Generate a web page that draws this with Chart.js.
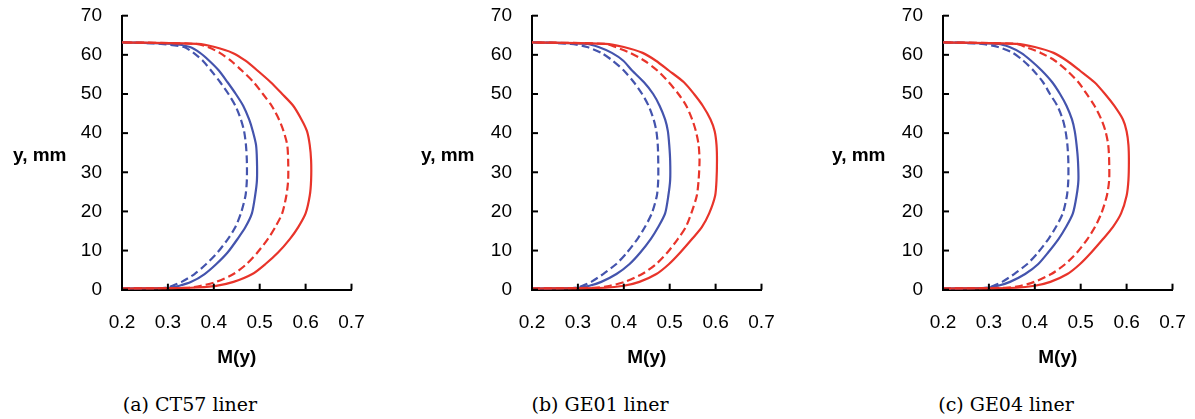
<!DOCTYPE html>
<html><head><meta charset="utf-8">
<script src="https://cdn.jsdelivr.net/npm/chart.js@4.4.1/dist/chart.umd.min.js"></script>
<style>
html,body{margin:0;padding:0;background:#fff;}
#wrap{position:relative;width:1195px;height:419px;overflow:hidden;background:#fff;}
.panel{position:absolute;top:0;width:374px;height:380px;}
.ylab{position:absolute;font:bold 19px "Liberation Sans",Arial,sans-serif;color:#000;line-height:22px;top:144px;white-space:nowrap;}
.cap{position:absolute;font:19px "DejaVu Serif",serif;color:#000;top:393px;width:300px;text-align:center;line-height:22px;}
</style></head><body>
<div id="wrap">
  <div class="panel" style="left:0px"><canvas id="c0" width="374" height="380"></canvas></div>
  <div class="panel" style="left:410px"><canvas id="c1" width="374" height="380"></canvas></div>
  <div class="panel" style="left:821px"><canvas id="c2" width="374" height="380"></canvas></div>
  <div class="ylab" style="left:13px">y, mm</div>
  <div class="ylab" style="left:421px">y, mm</div>
  <div class="ylab" style="left:832px">y, mm</div>
  <div class="cap" style="left:40px">(a) CT57 liner</div>
  <div class="cap" style="left:450px">(b) GE01 liner</div>
  <div class="cap" style="left:856px">(c) GE04 liner</div>
</div>
<script>
// ---- data ----
const yLevels = [0.3, 0.5, 1, 2, 4, 6.5, 9.5, 13, 16, 19.5, 24, 28, 33, 37, 40.5, 43.5, 47, 50, 53, 56, 58.5, 60.5, 62, 62.8, 63.2];

const ct57RedSolid   = [0.2, 0.350, 0.405, 0.443, 0.484, 0.512, 0.540, 0.566, 0.584, 0.600, 0.609, 0.612, 0.612, 0.609, 0.603, 0.591, 0.573, 0.549, 0.524, 0.495, 0.469, 0.441, 0.402, 0.365, 0.2];
const ct57RedDashed  = [0.2, 0.345, 0.372, 0.405, 0.443, 0.471, 0.495, 0.518, 0.534, 0.549, 0.558, 0.562, 0.562, 0.560, 0.552, 0.542, 0.526, 0.507, 0.487, 0.461, 0.437, 0.413, 0.387, 0.360, 0.2];
const ct57BlueSolid  = [0.2, 0.302, 0.325, 0.351, 0.380, 0.405, 0.430, 0.452, 0.469, 0.483, 0.490, 0.494, 0.494, 0.492, 0.485, 0.477, 0.464, 0.448, 0.430, 0.411, 0.390, 0.370, 0.348, 0.310, 0.2];
const ct57BlueDashed = [0.2, 0.295, 0.310, 0.330, 0.358, 0.383, 0.408, 0.431, 0.447, 0.459, 0.469, 0.472, 0.472, 0.470, 0.466, 0.459, 0.447, 0.432, 0.414, 0.394, 0.376, 0.356, 0.335, 0.285, 0.2];

const ge01RedSolid   = [0.2, 0.360, 0.400, 0.434, 0.471, 0.498, 0.523, 0.549, 0.570, 0.586, 0.599, 0.602, 0.603, 0.602, 0.598, 0.589, 0.572, 0.553, 0.531, 0.498, 0.470, 0.441, 0.400, 0.360, 0.2];
const ge01RedDashed  = [0.2, 0.335, 0.370, 0.402, 0.440, 0.470, 0.495, 0.518, 0.535, 0.547, 0.559, 0.563, 0.565, 0.563, 0.557, 0.549, 0.536, 0.519, 0.498, 0.473, 0.445, 0.414, 0.382, 0.360, 0.2];
const ge01BlueSolid  = [0.2, 0.300, 0.325, 0.351, 0.384, 0.412, 0.436, 0.459, 0.475, 0.490, 0.497, 0.501, 0.501, 0.499, 0.496, 0.490, 0.478, 0.464, 0.444, 0.418, 0.399, 0.374, 0.345, 0.320, 0.2];
const ge01BlueDashed = [0.2, 0.295, 0.310, 0.329, 0.355, 0.383, 0.407, 0.430, 0.446, 0.461, 0.472, 0.475, 0.475, 0.474, 0.471, 0.465, 0.454, 0.440, 0.422, 0.400, 0.376, 0.351, 0.320, 0.285, 0.2];

const ge04RedSolid   = [0.2, 0.360, 0.400, 0.434, 0.471, 0.498, 0.523, 0.549, 0.570, 0.588, 0.600, 0.604, 0.605, 0.604, 0.600, 0.592, 0.573, 0.553, 0.530, 0.498, 0.470, 0.441, 0.400, 0.360, 0.2];
const ge04RedDashed  = [0.2, 0.335, 0.370, 0.399, 0.436, 0.466, 0.492, 0.515, 0.531, 0.545, 0.557, 0.562, 0.562, 0.560, 0.554, 0.545, 0.530, 0.513, 0.495, 0.470, 0.444, 0.413, 0.380, 0.360, 0.2];
const ge04BlueSolid  = [0.2, 0.295, 0.320, 0.346, 0.379, 0.407, 0.429, 0.452, 0.468, 0.483, 0.491, 0.495, 0.494, 0.491, 0.487, 0.481, 0.469, 0.455, 0.438, 0.415, 0.392, 0.370, 0.345, 0.320, 0.2];
const ge04BlueDashed = [0.2, 0.295, 0.310, 0.329, 0.355, 0.383, 0.407, 0.430, 0.446, 0.461, 0.470, 0.473, 0.473, 0.471, 0.467, 0.461, 0.449, 0.433, 0.418, 0.397, 0.375, 0.352, 0.320, 0.285, 0.2];

const xTickValues = [0.2, 0.3, 0.4, 0.5, 0.6, 0.7];
const xTickLabels = ['0.2', '0.3', '0.4', '0.5', '0.6', '0.7'];
const yTickValues = [0, 10, 20, 30, 40, 50, 60, 70];
const yTickLabels = ['0', '10', '20', '30', '40', '50', '60', '70'];
const xAxisTitle = 'M(y)';

// ---- styles ----
const RED = '#e8342a';
const BLUE = '#4454ad';

Chart.defaults.font.family = '"Liberation Sans", Arial, sans-serif';
Chart.defaults.color = '#000';

const innerTicks = {
  id: 'innerTicks',
  afterDraw(chart) {
    const ctx = chart.ctx;
    const ca = chart.chartArea;
    const xs = chart.scales.x, ys = chart.scales.y;
    ctx.save();
    ctx.strokeStyle = '#000';
    ctx.lineWidth = 2;
    xs.ticks.forEach(t => {
      const p = xs.getPixelForValue(t.value);
      ctx.beginPath(); ctx.moveTo(p, ca.bottom); ctx.lineTo(p, ca.bottom - 6); ctx.stroke();
    });
    ys.ticks.forEach(t => {
      const p = ys.getPixelForValue(t.value);
      ctx.beginPath(); ctx.moveTo(ca.left, p); ctx.lineTo(ca.left + 6, p); ctx.stroke();
    });
    ctx.restore();
  }
};

function pts(arr) { return yLevels.map((y, i) => ({ x: arr[i], y: y })); }

function makePanel(id, redSolid, redDashed, blueSolid, blueDashed) {
  const line = (data, color, dashed) => ({
    data: pts(data), borderColor: color, backgroundColor: color,
    borderWidth: 2.2, borderDash: dashed ? [8, 4] : [], pointRadius: 0,
    showLine: true, tension: 0.25, fill: false
  });
  new Chart(document.getElementById(id), {
    type: 'scatter',
    data: { datasets: [
      line(redSolid, RED, false),
      line(redDashed, RED, true),
      line(blueSolid, BLUE, false),
      line(blueDashed, BLUE, true)
    ]},
    options: {
      responsive: false, animation: false,
      layout: { padding: { left: 0, right: 22.5, top: 15.7, bottom: 0 } },
      plugins: { legend: { display: false }, tooltip: { enabled: false } },
      scales: {
        x: {
          type: 'linear', min: 0.2, max: 0.7,
          afterBuildTicks: s => { s.ticks = xTickValues.map(v => ({ value: v })); },
          afterFit: s => { s.height = 90.3; s.paddingLeft = 0; s.paddingRight = 0; },
          grid: { drawOnChartArea: false, drawTicks: false },
          border: { display: true, color: '#000', width: 2 },
          ticks: { font: { size: 19 }, padding: 21.5, maxRotation: 0, autoSkip: false,
                   callback: (v, i) => xTickLabels[i] },
          title: { display: true, text: xAxisTitle, font: { size: 19, weight: 'bold' },
                   padding: { top: 0, bottom: 11.3 } }
        },
        y: {
          type: 'linear', min: 0, max: 70,
          afterBuildTicks: s => { s.ticks = yTickValues.map(v => ({ value: v })); },
          afterFit: s => { s.width = 122; s.paddingTop = 0; s.paddingBottom = 0; },
          grid: { drawOnChartArea: false, drawTicks: false },
          border: { display: true, color: '#000', width: 2 },
          ticks: { font: { size: 19 }, padding: 20, autoSkip: false,
                   callback: (v, i) => yTickLabels[i] }
        }
      }
    },
    plugins: [innerTicks]
  });
}

makePanel('c0', ct57RedSolid, ct57RedDashed, ct57BlueSolid, ct57BlueDashed);
makePanel('c1', ge01RedSolid, ge01RedDashed, ge01BlueSolid, ge01BlueDashed);
makePanel('c2', ge04RedSolid, ge04RedDashed, ge04BlueSolid, ge04BlueDashed);
</script>
</body></html>
